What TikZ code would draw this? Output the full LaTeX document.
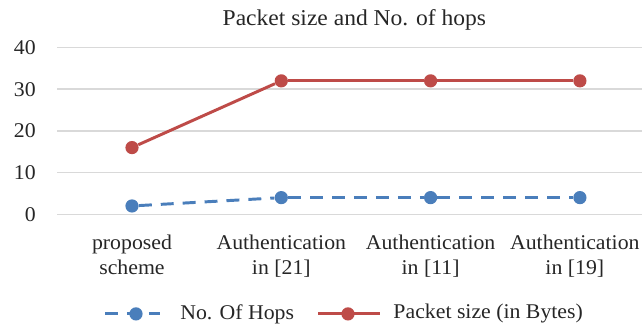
\documentclass[tikz,border=0pt]{standalone}
\usepackage{fontspec}
\setmainfont{Liberation Serif}[FakeStretch=1.04]
\usetikzlibrary{positioning}

\definecolor{hopblue}{HTML}{4A7EBB}
\definecolor{sizered}{HTML}{BE4B48}
\definecolor{rulegray}{HTML}{D9D9D9}
\definecolor{inkgray}{HTML}{262626}

\begin{document}
\begin{tikzpicture}[
  font=\fontsize{14.9}{17.8}\selectfont, text=inkgray,
  gridln/.style={rulegray, line width=1pt},
  hopline/.style={hopblue, line width=2.1pt, dash pattern=on 9.2pt off 6.4pt},
  sizeline/.style={sizered, line width=2.1pt},
  dot/.style={circle, inner sep=0pt, minimum size=9.4pt},
  hopdot/.style={dot, fill=hopblue},
  sizedot/.style={dot, fill=sizered},
  ylab/.style={anchor=east, inner sep=0pt},
  xlab/.style={align=center, anchor=north, inner sep=0pt},
  keytxt/.style={anchor=west, inner sep=0pt},
]
\def\vy{0.10425}   % cm per unit on the value axis
\def\cx{3.7325}    % cm between categories
\useasboundingbox (0,-2.8425) rectangle (16.05,5.3575);

%% ---------- axis and grid ----------
\node[font=\fontsize{16.1}{19}\selectfont] (title) at (8.86,4.86) {Packet size and No. of hops};
\foreach \v in {0,10,...,40}{
  \draw[gridln] (1.4325,{\v*\vy}) -- (16.05,{\v*\vy});
  \node[ylab] (y\v) at (0.9,{\v*\vy}) {\v};
}

%% ---------- data ----------
\foreach \i/\h/\s in {1/2/16, 2/4/32, 3/4/32, 4/4/32}{
  \pgfmathsetmacro{\xx}{3.3+(\i-1)*\cx}
  \node[hopdot] (h\i) at (\xx,{\h*\vy}) {};
  \node[sizedot] (s\i) at (\xx,{\s*\vy}) {};
}
\foreach \i [evaluate=\i as \j using int(\i+1)] in {1,2,3}{
  \draw[hopline] (h\i) -- (h\j);
  \draw[sizeline] (s\i) -- (s\j);
}

\node[xlab] (c1) at (3.3,-0.5) {proposed\\scheme};
\node[xlab] (c2) at ({3.3+\cx},-0.5) {Authentication\\in [21]};
\node[xlab] (c3) at ({3.3+2*\cx},-0.5) {Authentication\\in [11]};
\node[xlab] (c4) at (14.37,-0.5) {Authentication\\in [19]};

%% ---------- legend ----------
\coordinate (hopL) at (2.625,-2.49);
\coordinate (hopR) at (4.0,-2.49);
\draw[hopline] (hopL) -- (hopR);
\node[hopdot] (hopkey) at (3.4,-2.49) {};
\node[keytxt] (hoptxt) at (4.5,-2.49) {No. Of Hops};

\coordinate (sizeL) at (7.95,-2.49);
\coordinate (sizeR) at (9.5,-2.49);
\draw[sizeline] (sizeL) -- (sizeR);
\node[sizedot] (sizekey) at (8.7,-2.49) {};
\node[keytxt] (sizetxt) at (9.83,-2.49) {Packet size (in Bytes)};

\end{tikzpicture}
\end{document}
